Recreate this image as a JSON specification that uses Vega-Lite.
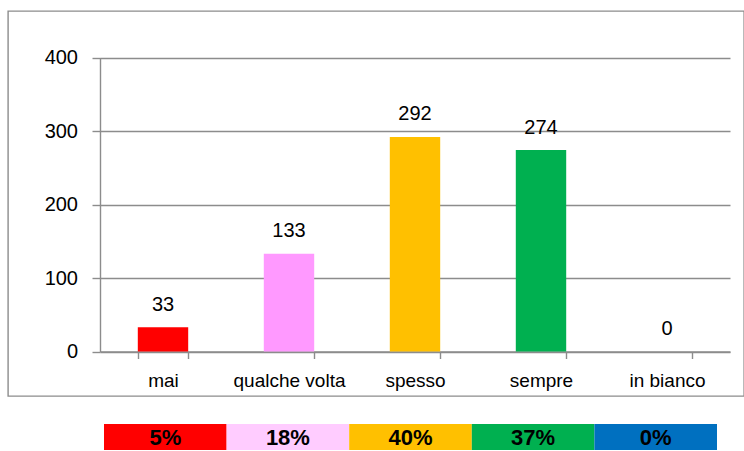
{
  "$schema": "https://vega.github.io/schema/vega-lite/v6.json",
  "padding": {"left": 7, "top": 10, "right": 0, "bottom": 0},
  "autosize": {"type": "pad"},
  "background": "white",
  "config": {"font": "Liberation Sans", "concat": {"spacing": 27}},
  "datasets": {
    "answers": [
      {"categoria": "mai", "n": 33, "perc": "5%"},
      {"categoria": "qualche volta", "n": 133, "perc": "18%"},
      {"categoria": "spesso", "n": 292, "perc": "40%"},
      {"categoria": "sempre", "n": 274, "perc": "37%"},
      {"categoria": "in bianco", "n": 0, "perc": "0%"}
    ]
  },
  "resolve": {"scale": {"x": "independent", "y": "independent", "color": "independent"}},
  "vconcat": [
    {
      "width": 736,
      "height": 385,
      "view": {"stroke": "#8c8c8c", "strokeWidth": 1.4},
      "data": {"name": "answers"},
      "encoding": {
        "x": {
          "field": "categoria", "type": "nominal", "sort": null,
          "scale": {"range": [92, 722], "paddingInner": 0.6, "paddingOuter": 0.3},
          "axis": {
            "title": null, "orient": "bottom", "offset": -44.5, "tickBand": "extent",
            "labelAngle": 0, "labelFontSize": 19, "labelColor": "#000000", "labelPadding": 13,
            "tickSize": 7, "tickColor": "#8c8c8c", "tickWidth": 1.4,
            "domainColor": "#8c8c8c", "domainWidth": 1.4, "grid": false
          }
        },
        "y": {
          "field": "n", "type": "quantitative",
          "scale": {"domain": [0, 400], "range": [340.5, 46.5], "nice": false},
          "axis": {
            "title": null, "orient": "left", "offset": -92, "values": [0, 100, 200, 300, 400],
            "labelFontSize": 20, "labelColor": "#000000", "labelPadding": 14.5,
            "tickSize": 8, "tickColor": "#8c8c8c", "tickWidth": 1.4,
            "domainColor": "#8c8c8c", "domainWidth": 1.4,
            "grid": true, "gridColor": "#8c8c8c", "gridWidth": 1.4
          }
        }
      },
      "layer": [
        {
          "mark": {"type": "bar"},
          "encoding": {
            "color": {
              "field": "categoria", "type": "nominal", "legend": null,
              "scale": {
                "domain": ["mai", "qualche volta", "spesso", "sempre", "in bianco"],
                "range": ["#FF0000", "#FF99FF", "#FFC000", "#00B050", "#0070C0"]
              }
            }
          }
        },
        {
          "mark": {"type": "text", "baseline": "alphabetic", "dy": -16.5, "fontSize": 20, "color": "#000000"},
          "encoding": {"text": {"field": "n", "type": "quantitative"}}
        }
      ]
    },
    {
      "width": 736,
      "height": 26,
      "view": {"stroke": null},
      "data": {"name": "answers"},
      "encoding": {
        "x": {
          "field": "categoria", "type": "nominal", "sort": null,
          "scale": {"range": [96, 709], "paddingInner": 0, "paddingOuter": 0},
          "axis": null
        }
      },
      "layer": [
        {
          "mark": {"type": "bar"},
          "encoding": {
            "color": {
              "field": "categoria", "type": "nominal", "legend": null,
              "scale": {
                "domain": ["mai", "qualche volta", "spesso", "sempre", "in bianco"],
                "range": ["#FF0000", "#FFCCFF", "#FFC000", "#00B050", "#0070C0"]
              }
            }
          }
        },
        {
          "mark": {"type": "text", "baseline": "middle", "fontSize": 22, "fontWeight": "bold", "color": "#000000", "dy": 1},
          "encoding": {"text": {"field": "perc", "type": "nominal"}}
        }
      ]
    }
  ]
}
